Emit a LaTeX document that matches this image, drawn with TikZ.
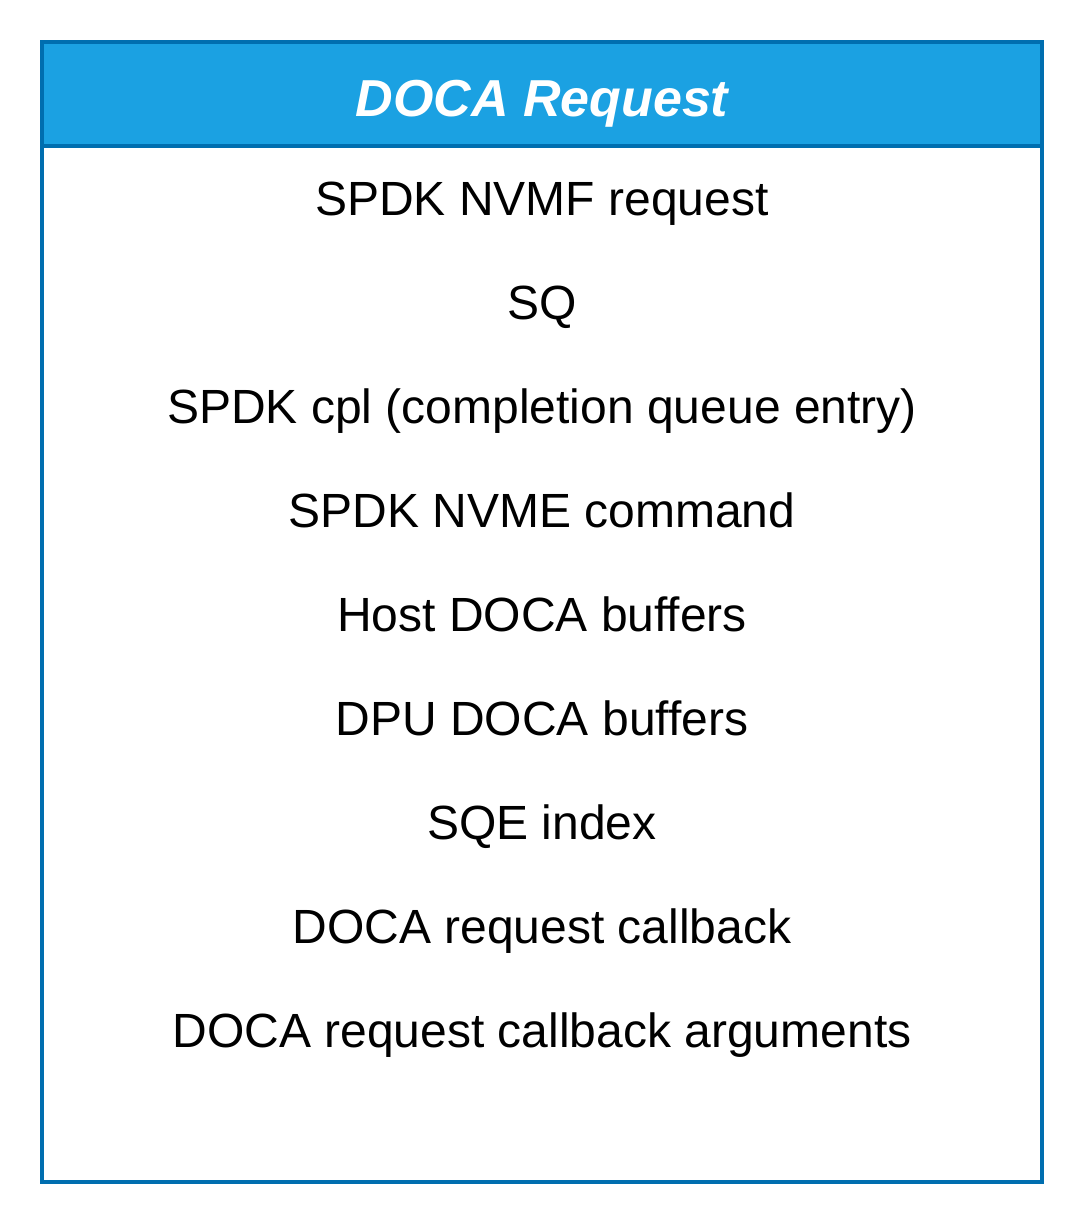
\documentclass[tikz,border=0pt]{standalone}
\usepackage{fontspec}
\setmainfont{Liberation Sans}
\definecolor{hdrfill}{HTML}{1BA1E2}
\definecolor{hdrline}{HTML}{006EAF}
\begin{document}
\begin{tikzpicture}[x=1pt,y=-1pt,
  field/.style={anchor=base,inner sep=0pt,font=\fontsize{48}{56}\selectfont,text=black},
  title/.style={anchor=base,inner sep=0pt,font=\fontsize{52}{60}\selectfont\bfseries\itshape,text=white}]
\useasboundingbox (0,0) rectangle (1084,1224);
\fill[hdrfill] (42,42) rectangle (1042,146);
\draw[hdrline,line width=4pt] (42,146) -- (1042,146);
\draw[hdrline,line width=4pt] (42,42) rectangle (1042,1182);
\node[title] (t) at (542,116) {DOCA Request};
\node[field] (f1) at (542,215) {SPDK NVMF request};
\node[field] (f2) at (542,319) {SQ};
\node[field] (f3) at (542,423) {SPDK cpl (completion queue entry)};
\node[field] (f4) at (542,527) {SPDK NVME command};
\node[field] (f5) at (542,631) {Host DOCA buffers};
\node[field] (f6) at (542,735) {DPU DOCA buffers};
\node[field] (f7) at (542,839) {SQE index};
\node[field] (f8) at (542,943) {DOCA request callback};
\node[field] (f9) at (542,1047) {DOCA request callback arguments};
\end{tikzpicture}
\end{document}
